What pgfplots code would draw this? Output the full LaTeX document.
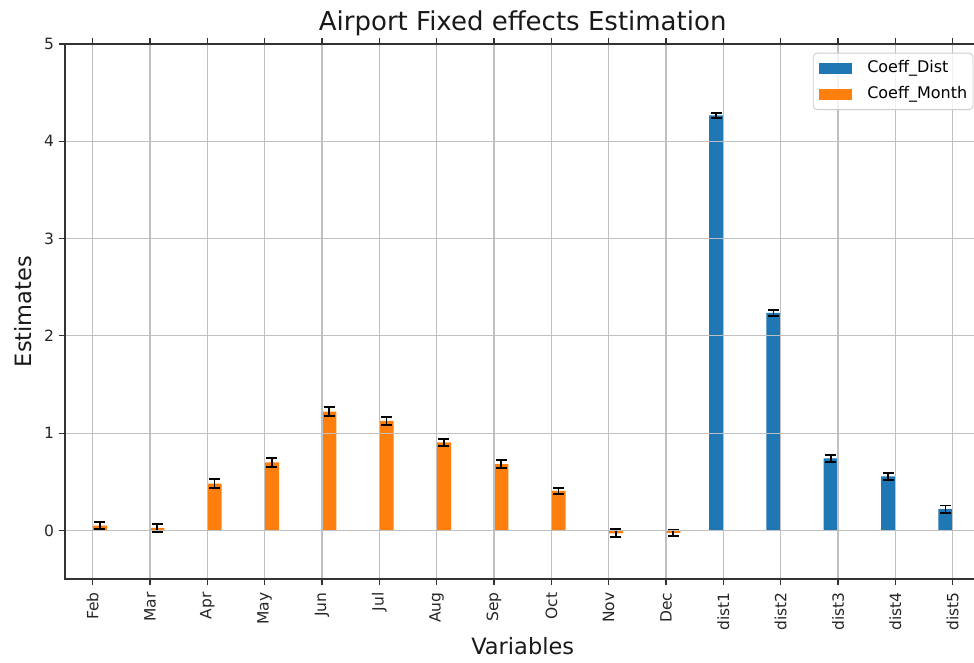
\documentclass[border=0pt]{standalone}
\usepackage{fontspec}
\setmainfont{DejaVu Sans}
\usepackage{pgfplots}
\usepackage{pgfplotstable}
\pgfplotsset{compat=1.18}

\definecolor{tabblue}{HTML}{1F77B4}
\definecolor{taborange}{HTML}{FF7F0E}
\definecolor{gridgray}{HTML}{C0C0C0}
\definecolor{spinegray}{HTML}{333333}
\definecolor{legendframe}{HTML}{CCCCCC}

% month coefficients (x = category index + half a bar)
\pgfplotstableread{
x      y       e
0.125  0.050   0.040
1.125  0.025   0.040
2.125  0.480   0.045
3.125  0.700   0.045
4.125  1.220   0.045
5.125  1.125   0.042
6.125  0.905   0.037
7.125  0.680   0.042
8.125  0.405   0.030
9.125  -0.030  0.040
10.125 -0.025  0.032
}\monthdata

% distance coefficients (x = category index - half a bar)
\pgfplotstableread{
x       y      e
10.875  4.265  0.028
11.875  2.235  0.028
12.875  0.740  0.037
13.875  0.555  0.037
14.875  0.218  0.037
}\distdata

\begin{document}
\begin{tikzpicture}
\begin{axis}[
  at={(0,0)}, anchor=south west,
  scale only axis, width=915.4pt, height=535pt,
  xmin=-0.483, xmax=15.483, ymin=-0.5, ymax=5,
  xtick={0,...,15},
  xticklabels={Feb,Mar,Apr,May,Jun,Jul,Aug,Sep,Oct,Nov,Dec,dist1,dist2,dist3,dist4,dist5},
  ytick={0,...,5},
  /pgf/number format/assume math mode=true,
  grid=major,
  grid style={gridgray, line width=1.1pt},
  axis line style={spinegray, line width=1.1pt},
  tick align=outside, major tick length=6pt,
  tick style={spinegray, line width=1.1pt},
  xticklabel style={rotate=90, anchor=east, font=\fontsize{15.5}{18}\selectfont, text=black!85},
  yticklabel style={font=\fontsize{15.5}{18}\selectfont, text=black!85},
  xticklabel shift=4pt,
  yticklabel shift=1.5pt,
  title={Airport Fixed effects Estimation},
  every axis title/.style={at={(axis description cs:0.5,1.0249)}, anchor=base, font=\fontsize{26}{30}\selectfont, text=black!90},
  xlabel={Variables},
  every axis x label/.style={at={(axis description cs:0.5,-0.142)}, anchor=base, font=\fontsize{22.5}{26}\selectfont, text=black!90},
  ylabel={Estimates},
  every axis y label/.style={at={(axis description cs:-0.0364,0.5)}, rotate=90, anchor=base, font=\fontsize{22.5}{26}\selectfont, text=black!90},
  axis on top,
  ybar, bar width=0.25, bar shift=0pt,
  legend image code/.code={\path[#1, sharp corners, fill opacity=1] (0pt,-5.3pt) rectangle (33.3pt,5.3pt);},
  legend style={
    at={(axis description cs:0.99235,0.98374)}, anchor=north east,
    font=\fontsize{16}{19}\selectfont,
    draw=legendframe, line width=0.9pt, rounded corners=4pt,
    fill=white, fill opacity=0.8, text opacity=1,
    inner xsep=5.7pt, inner ysep=8pt, row sep=11.5pt,
    nodes={inner xsep=0pt, inner ysep=0pt, text height=11pt, text depth=3.5pt},
    /tikz/column sep=15pt,
    legend cell align=left,
  },
  error bars/y dir=both,
  error bars/y explicit,
  error bars/error bar style={black, line width=1.6pt},
  error bars/error mark options={black, rotate=90, mark size=5.5pt, line width=1.8pt},
]
\addplot[fill=tabblue, draw=none] table[x=x, y=y, y error=e] {\distdata};
\addlegendentry{Coeff\_Dist}
\addplot[fill=taborange, draw=none] table[x=x, y=y, y error=e] {\monthdata};
\addlegendentry{Coeff\_Month}
\end{axis}
\pgfresetboundingbox
\path[use as bounding box] (-65pt,-83pt) rectangle (909pt,579pt);
\end{tikzpicture}
\end{document}
